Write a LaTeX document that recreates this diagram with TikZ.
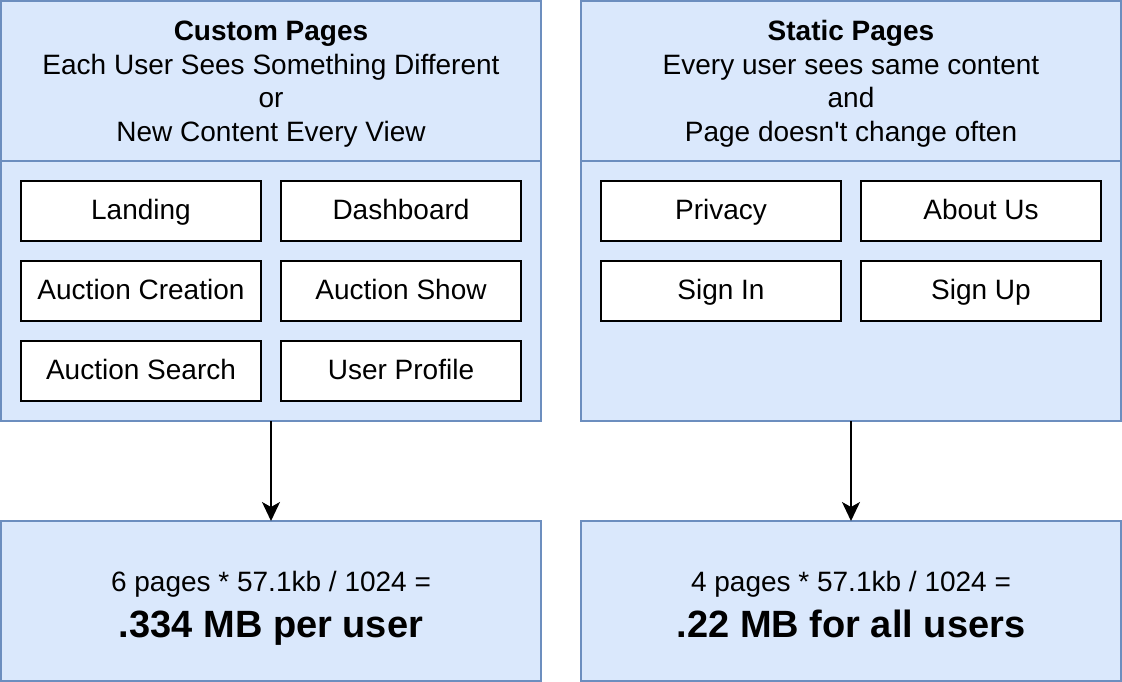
\documentclass[tikz,border=0pt]{standalone}
\usepackage{fontspec}
\setmainfont{Liberation Sans}[Ligatures=TeXOff]
\usetikzlibrary{arrows.meta}
\definecolor{panelfill}{HTML}{DAE8FC}
\definecolor{panelline}{HTML}{6C8EBF}
\newcommand{\headstrut}{\rule{0pt}{26pt}}
\newcommand{\sumstrut}{\rule{0pt}{34pt}}
\begin{document}
\begin{tikzpicture}[x=1pt,y=-1pt,
  panel/.style={draw=panelline, fill=panelfill, line width=1.6pt, rectangle,
    inner sep=0pt, outer sep=0pt, minimum width=540pt, align=center,
    font=\fontsize{28pt}{33.5pt}\selectfont},
  pagebox/.style={draw=black, fill=white, line width=1.6pt, rectangle,
    minimum width=240pt, minimum height=60pt, inner sep=0pt,
    text height=22pt, text depth=6pt,
    font=\fontsize{28pt}{33pt}\selectfont},
  flow/.style={draw=black, line width=1.6pt,
    -{Stealth[length=19pt, width=18pt, inset=5pt]}}]
\useasboundingbox (0,0) rectangle (1122,682);

% Custom pages panel
\node[panel, minimum height=260pt] (lbody) at (271,291) {};
\node[panel, minimum height=160pt] (lhead) at (271,81)
  {\headstrut\textbf{Custom Pages}\\Each User Sees Something Different\\or\\New Content Every View};
\node[pagebox] (landing)  at (141,211) {Landing};
\node[pagebox] (dash)     at (401,211) {Dashboard};
\node[pagebox] (create)   at (141,291) {Auction Creation};
\node[pagebox] (show)     at (401,291) {Auction Show};
\node[pagebox] (search)   at (141,371) {Auction Search};
\node[pagebox] (profile)  at (401,371) {User Profile};

% Static pages panel
\node[panel, minimum height=260pt] (rbody) at (851,291) {};
\node[panel, minimum height=160pt] (rhead) at (851,81)
  {\headstrut\textbf{Static Pages}\\Every user sees same content\\and\\Page doesn't change often};
\node[pagebox] (privacy)  at (721,211) {Privacy};
\node[pagebox] (about)    at (981,211) {About Us};
\node[pagebox] (signin)   at (721,291) {Sign In};
\node[pagebox] (signup)   at (981,291) {Sign Up};

% Size results
\node[panel, minimum height=160pt] (lres) at (271,601)
  {\sumstrut 6 pages * 57.1kb / 1024 =\\[12.5pt]{\fontsize{38pt}{44pt}\selectfont\bfseries .334 MB per user\vphantom{p}}};
\node[panel, minimum height=160pt] (rres) at (851,601)
  {\sumstrut 4 pages * 57.1kb / 1024 =\\[12.5pt]{\fontsize{38pt}{44pt}\selectfont\bfseries .22 MB for all users\vphantom{p}}};

\draw[flow] (lbody.south) -- (lres.north);
\draw[flow] (rbody.south) -- (rres.north);
\end{tikzpicture}
\end{document}
